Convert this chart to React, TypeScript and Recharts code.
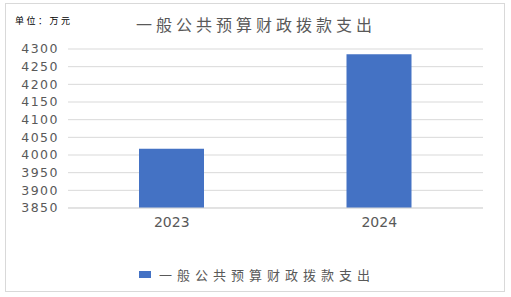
import React from 'react';
import { BarChart, Bar, XAxis, YAxis, CartesianGrid } from 'recharts';

const categories = ['2023', '2024'];
const expenditure = [4018, 4285];
const yTicks = [3850, 3900, 3950, 4000, 4050, 4100, 4150, 4200, 4250, 4300];
const titleText = '一般公共预算财政拨款支出';
const unitText = '单位：万元';
const seriesName = '一般公共预算财政拨款支出';

const data = categories.map((c, i) => ({ year: c, value: expenditure[i] }));

export default function App() {
  return (
    <div style={{ position: 'absolute', left: 0, top: 0, width: 511, height: 297, background: '#fff' }}>
      <div
        style={{
          position: 'absolute',
          left: 5,
          top: 3,
          width: 500,
          height: 289,
          border: '1px solid #d9d9d9',
          boxSizing: 'border-box',
        }}
      />
      <div style={{ position: 'absolute', left: 0, top: 0 }}>
        <BarChart width={511} height={297} data={data} margin={{ top: 49, right: 28, left: 0, bottom: 59 }}>
          <CartesianGrid vertical={false} stroke="#d9d9d9" />
          <XAxis
            dataKey="year"
            height={30}
            tickLine={false}
            axisLine={{ stroke: '#d9d9d9' }}
            tickMargin={3}
            tick={{ fill: '#595959', fontSize: 14, fontFamily: 'DejaVu Sans' }}
          />
          <YAxis
            width={68}
            domain={[3850, 4300]}
            ticks={yTicks}
            interval={0}
            axisLine={false}
            tickLine={false}
            tickMargin={3}
            tick={{ fill: '#595959', fontSize: 12.5, fontFamily: 'DejaVu Sans', letterSpacing: 1.5 }}
          />
          <Bar dataKey="value" name={seriesName} fill="#4472C4" barSize={65} isAnimationActive={false} />
        </BarChart>
      </div>
      <div
        style={{
          position: 'absolute',
          left: 15,
          top: 16,
          fontSize: 9,
          lineHeight: '9px',
          letterSpacing: 2.5,
          color: '#000',
          fontFamily: '"Noto Sans CJK SC"',
          whiteSpace: 'nowrap',
        }}
      >
        {unitText}
      </div>
      <div
        style={{
          position: 'absolute',
          left: 136,
          top: 16,
          fontSize: 16,
          lineHeight: '16px',
          letterSpacing: 4,
          color: '#595959',
          fontFamily: '"Noto Sans CJK SC"',
          whiteSpace: 'nowrap',
        }}
      >
        {titleText}
      </div>
      <div
        style={{
          position: 'absolute',
          left: 139,
          top: 268,
          display: 'flex',
          alignItems: 'center',
          whiteSpace: 'nowrap',
        }}
      >
        <div style={{ width: 12, height: 7, background: '#4472C4', marginRight: 8 }} />
        <span
          style={{
            fontSize: 13,
            lineHeight: '13px',
            letterSpacing: 5,
            color: '#595959',
            fontFamily: '"Noto Sans CJK SC"',
          }}
        >
          {seriesName}
        </span>
      </div>
    </div>
  );
}
